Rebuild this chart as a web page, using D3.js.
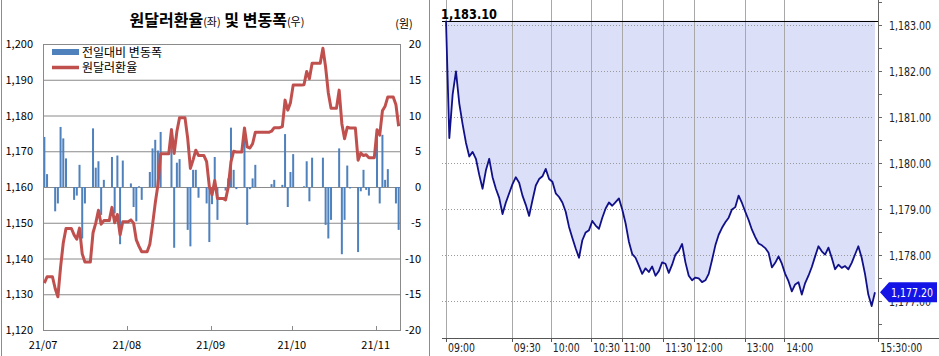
<!DOCTYPE html>
<html><head><meta charset="utf-8">
<script src="https://cdn.jsdelivr.net/npm/d3@7"></script>
<style>body{margin:0;background:#fff} svg{display:block}</style>
</head><body>
<svg id="c" width="939" height="356"></svg>
<script>
// ---------------- LEFT CHART DATA ----------------
const dailyDates = [
 "2021-07-01","2021-07-02","2021-07-05","2021-07-06","2021-07-07","2021-07-08","2021-07-09",
 "2021-07-12","2021-07-13","2021-07-14","2021-07-15","2021-07-16","2021-07-19","2021-07-20",
 "2021-07-21","2021-07-22","2021-07-23","2021-07-26","2021-07-27","2021-07-28","2021-07-29","2021-07-30",
 "2021-08-02","2021-08-03","2021-08-04","2021-08-05","2021-08-06","2021-08-09","2021-08-10",
 "2021-08-11","2021-08-12","2021-08-13","2021-08-17","2021-08-18","2021-08-19","2021-08-20",
 "2021-08-23","2021-08-24","2021-08-25","2021-08-26","2021-08-27","2021-08-30","2021-08-31",
 "2021-09-01","2021-09-02","2021-09-03","2021-09-06","2021-09-07","2021-09-08","2021-09-09","2021-09-10",
 "2021-09-13","2021-09-14","2021-09-15","2021-09-16","2021-09-17","2021-09-23","2021-09-24",
 "2021-09-27","2021-09-28","2021-09-29","2021-09-30",
 "2021-10-01","2021-10-05","2021-10-06","2021-10-07","2021-10-08","2021-10-12","2021-10-13",
 "2021-10-14","2021-10-15","2021-10-18","2021-10-19","2021-10-20","2021-10-21","2021-10-22",
 "2021-10-25","2021-10-26","2021-10-27","2021-10-28","2021-10-29",
 "2021-11-01","2021-11-02","2021-11-03","2021-11-04","2021-11-05","2021-11-08","2021-11-09"];
const usdKrw = [
 1133.1,1134.9,1131.6,1129.3,1137.6,1144.4,1148.4,1146.6,1145.4,1148.5,1141.3,1139.0,1147.2,1149.9,
 1153.5,1149.6,1150.6,1154.3,1150.0,1152.3,1146.6,1150.3,
 1150.8,1149.9,1145.2,1143.4,1141.9,1144.0,1149.4,1155.5,1160.6,1169.3,1176.0,1169.4,1175.5,1179.4,
 1173.6,1165.2,1167.6,1170.3,1168.8,1167.1,1160.1,
 1157.8,1161.8,1156.8,1156.4,1160.0,1167.0,1170.0,1169.8,1176.5,1171.2,1170.9,1172.1,1175.3,1175.6,
 1176.6,1176.9,1184.3,1181.5,1183.6,
 1188.5,1188.6,1192.3,1190.3,1194.6,1198.8,1193.5,1186.3,1182.0,1187.1,1177.7,1173.5,1176.7,1176.5,
 1167.5,1169.5,1168.8,1169.0,1168.2,
 1176.0,1174.5,1181.3,1182.6,1185.2,1183.0,1177.0];
const dailyChange = [
 7.0,1.8,-3.4,-2.3,8.4,6.8,4.0,-1.8,-1.2,3.1,-7.2,-2.3,8.2,2.7,3.6,-3.9,1.0,4.2,-3.7,4.4,-8.0,3.7,
 0.5,-2.8,-4.8,0.1,-1.8,2.1,5.4,6.6,5.1,7.7,8.2,-8.5,3.4,3.9,-6.0,-8.3,2.4,2.4,-1.5,-2.3,-7.7,
 -2.4,4.2,-4.6,-0.5,1.2,8.3,2.4,-0.3,6.6,-5.3,-0.3,1.2,3.1,0.4,1.0,0.3,7.4,-2.8,2.1,
 4.6,0.1,3.6,-2.0,4.1,4.1,-5.3,-7.2,-4.6,5.4,-9.4,-4.6,3.0,-0.2,-9.1,-0.6,2.4,-0.4,-1.2,
 7.3,-2.3,7.3,1.0,2.5,-2.3,-6.0];
const rateTicks = [1120,1130,1140,1150,1160,1170,1180,1190,1200];
const changeTicks = [-20,-15,-10,-5,0,5,10,15,20];
const monthTicks = ["2021-07-01","2021-08-01","2021-09-01","2021-10-01","2021-11-01"];
const monthLabels = ["21/07","21/08","21/09","21/10","21/11"];

// ---------------- RIGHT CHART DATA ----------------
const intradayPrice = [
 1183.10,1180.55,1181.50,1182.00,1181.30,1180.85,1180.45,1180.15,1180.25,1180.10,
 1179.75,1179.45,1179.85,1180.10,1179.70,1179.45,1179.25,1178.90,1179.15,1179.35,
 1179.55,1179.70,1179.58,1179.30,1179.10,1178.86,1179.20,1179.52,1179.66,1179.72,
 1179.88,1179.66,1179.60,1179.35,1179.27,1179.15,1178.95,1178.62,1178.38,1178.15,
 1177.95,1178.33,1178.50,1178.55,1178.75,1178.65,1178.58,1178.82,1179.02,1179.15,
 1179.08,1179.16,1179.24,1179.00,1178.70,1178.30,1178.03,1177.95,1177.78,1177.60,
 1177.72,1177.64,1177.76,1177.56,1177.66,1177.85,1177.82,1177.62,1177.80,1178.02,
 1178.10,1178.25,1177.85,1177.56,1177.46,1177.52,1177.50,1177.42,1177.46,1177.60,
 1177.90,1178.22,1178.45,1178.60,1178.72,1178.82,1179.00,1179.05,1179.30,1179.14,
 1178.95,1178.77,1178.56,1178.40,1178.26,1178.22,1178.16,1178.06,1177.74,1177.84,
 1177.98,1177.82,1177.60,1177.44,1177.22,1177.37,1177.42,1177.15,1177.40,1177.56,
 1177.75,1177.98,1178.20,1178.09,1178.02,1178.17,1177.95,1177.70,1177.80,1177.73,
 1177.77,1177.70,1177.84,1178.02,1178.20,1177.95,1177.60,1177.15,1176.90,1177.20];
const timeLabels = ["09:00","09:30","10:00","10:30","11:00","11:30","12:00","13:00","14:00","15:30:00"];
const timeLabelIndex = [0,19.8,31.5,43.6,52.8,65.3,74.5,89.8,101.7,130];
const priceTicks = [1177,1178,1179,1180,1181,1182,1183];
const dayHigh = 1183.10;
const dayClose = 1177.20;

// ---------------- DRAW ----------------
const svg = d3.select("#c");
const KR = "'Noto Sans CJK KR','Noto Sans',sans-serif";
const NUM = "'Liberation Sans Narrow','DejaVu Sans Condensed','Liberation Sans',Arial,sans-serif";

// ===== Left chart =====
const L = svg.append("g");
L.append("rect").attr("x",1.5).attr("y",-2).attr("width",428).attr("height",360)
  .attr("fill","none").attr("stroke","#8c8c8c").attr("stroke-width",1);

const parse = d3.utcParse("%Y-%m-%d");
const days = dailyDates.map(parse);
const xL = d3.scaleUtc().domain([parse("2021-07-01"), parse("2021-11-10")]).range([43,400]);
const yL = d3.scaleLinear().domain([1120,1200]).range([330,44]);
const yR = d3.scaleLinear().domain([-20,20]).range([330,44]);
const mid = d => xL(d3.utcHour.offset(d,12));

L.append("g").selectAll("line").data(rateTicks.slice(1)).join("line")
  .attr("x1",43).attr("x2",400).attr("y1",d=>yL(d)+0.5).attr("y2",d=>yL(d)+0.5)
  .attr("stroke","#8a8a8a").attr("stroke-width",1);

L.append("g").selectAll("rect").data(dailyChange).join("rect")
  .attr("x",(d,i)=>mid(days[i])-1)
  .attr("width",2)
  .attr("y",d=>yR(Math.max(0,d)))
  .attr("height",d=>Math.abs(yR(d)-yR(0)))
  .attr("fill","#4f81bd");

L.append("line").attr("x1",43.5).attr("x2",43.5).attr("y1",44).attr("y2",330).attr("stroke","#8a8a8a");
L.append("line").attr("x1",400.5).attr("x2",400.5).attr("y1",44).attr("y2",330).attr("stroke","#8a8a8a");
L.append("line").attr("x1",43).attr("x2",401).attr("y1",330.5).attr("y2",330.5).attr("stroke","#8a8a8a");

const pts = [];
days.forEach((d,i)=>{
  if(i>0){
    const prev = d3.utcDay.offset(d,-1);
    if(+prev !== +days[i-1]) pts.push([mid(prev), yL(usdKrw[i-1])]);
  }
  pts.push([mid(d), yL(usdKrw[i])]);
});
L.append("path").attr("d",d3.line()(pts)).attr("fill","none")
  .attr("stroke","#c0504d").attr("stroke-width",3).attr("stroke-linejoin","round");

const mt = monthTicks.map(parse);
L.append("g").selectAll("line").data(mt).join("line")
  .attr("x1",d=>Math.round(xL(d))+0.5).attr("x2",d=>Math.round(xL(d))+0.5)
  .attr("y1",326).attr("y2",330).attr("stroke","#8a8a8a");
L.append("g").selectAll("text").data(mt).join("text")
  .attr("x",d=>xL(d)).attr("y",349).attr("text-anchor","middle")
  .attr("font-family",KR).attr("font-size",11).attr("fill","#000")
  .text((d,i)=>monthLabels[i]);

L.append("g").selectAll("text").data(rateTicks).join("text")
  .attr("x",33).attr("y",d=>yL(d)+4).attr("text-anchor","end")
  .attr("font-family",KR).attr("font-size",11).attr("fill","#000")
  .text(d=>d3.format(",")(d));
L.append("g").selectAll("text").data(changeTicks).join("text")
  .attr("x",421).attr("y",d=>yR(d)+4).attr("text-anchor","end")
  .attr("font-family",KR).attr("font-size",11).attr("fill","#000")
  .text(d=>d);

const t = L.append("text").attr("x",217).attr("y",26).attr("text-anchor","middle")
  .attr("font-family",KR).attr("fill","#000");
t.append("tspan").attr("font-size",16).attr("font-weight","bold").text("원달러환율");
t.append("tspan").attr("font-size",11).text("(좌)");
t.append("tspan").attr("font-size",16).attr("font-weight","bold").text(" 및 변동폭");
t.append("tspan").attr("font-size",11).text("(우)");
L.append("text").attr("x",404).attr("y",28).attr("text-anchor","middle")
  .attr("font-family",KR).attr("font-size",11).attr("fill","#000").text("(원)");

L.append("rect").attr("x",52).attr("y",49).attr("width",27).attr("height",6).attr("fill","#4f81bd");
L.append("text").attr("x",82).attr("y",57).attr("font-family",KR).attr("font-size",12).text("전일대비 변동폭");
L.append("line").attr("x1",52).attr("x2",79).attr("y1",67.5).attr("y2",67.5).attr("stroke","#c0504d").attr("stroke-width",3.5);
L.append("text").attr("x",82).attr("y",72).attr("font-family",KR).attr("font-size",12).text("원달러환율");

// ===== Right chart =====
const R = svg.append("g");
const xT = d3.scaleLinear().domain([0,130]).range([446,878.3]);
const yP = d3.scaleLinear().domain([1176.2,1183.55]).range([338.3,0]);

R.append("path").datum(intradayPrice)
  .attr("d",d3.area().x((d,i)=>xT(i)).y0(yP(dayHigh)).y1(d=>yP(d)))
  .attr("fill","#dcdff8");

R.append("g").selectAll("line").data(timeLabelIndex).join("line")
  .attr("x1",d=>Math.round(xT(d))+0.5).attr("x2",d=>Math.round(xT(d))+0.5)
  .attr("y1",0).attr("y2",342).attr("stroke","#a8a8a8").attr("stroke-width",1);
R.append("g").selectAll("line").data(priceTicks).join("line")
  .attr("x1",442).attr("x2",873).attr("y1",d=>Math.round(yP(d))+0.5).attr("y2",d=>Math.round(yP(d))+0.5)
  .attr("stroke","#9a9a9a").attr("stroke-dasharray","1,2");

R.append("line").attr("x1",442).attr("x2",878).attr("y1",Math.round(yP(dayHigh))+0.5).attr("y2",Math.round(yP(dayHigh))+0.5)
  .attr("stroke","#000").attr("stroke-width",1);
R.append("text").attr("x",441).attr("y",19).attr("font-family",NUM).attr("font-weight","bold")
  .attr("font-size",14).attr("fill","#000").attr("textLength",56).attr("lengthAdjust","spacingAndGlyphs")
  .text(d3.format(",.2f")(dayHigh));

R.append("path").datum(intradayPrice)
  .attr("d",d3.line().x((d,i)=>xT(i)).y(d=>yP(d)))
  .attr("fill","none").attr("stroke","#10108a").attr("stroke-width",1.8).attr("stroke-linejoin","round");

R.append("line").attr("x1",442).attr("x2",939).attr("y1",338.5).attr("y2",338.5).attr("stroke","#555");
R.append("g").selectAll("line").data(timeLabelIndex).join("line")
  .attr("x1",d=>Math.round(xT(d))+0.5).attr("x2",d=>Math.round(xT(d))+0.5)
  .attr("y1",338).attr("y2",342).attr("stroke","#555");
R.append("g").selectAll("text").data(timeLabelIndex).join("text")
  .attr("x",d=>xT(d)+2).attr("y",352)
  .attr("font-family",NUM).attr("font-size",12).attr("fill","#222")
  .attr("textLength",(d,i)=>timeLabels[i].length>5?42:27).attr("lengthAdjust","spacingAndGlyphs")
  .text((d,i)=>timeLabels[i]);

R.append("line").attr("x1",878.5).attr("x2",878.5).attr("y1",0).attr("y2",338).attr("stroke","#666");
const minor = d3.range(1176.5,1183.6,0.5);
R.append("g").selectAll("line").data(minor).join("line")
  .attr("x1",878).attr("x2",882).attr("y1",d=>Math.round(yP(d))+0.5).attr("y2",d=>Math.round(yP(d))+0.5)
  .attr("stroke","#666");
R.append("g").selectAll("text").data(priceTicks).join("text")
  .attr("x",889).attr("y",d=>yP(d)+5)
  .attr("font-family",NUM).attr("font-size",12).attr("fill","#222")
  .attr("textLength",42).attr("lengthAdjust","spacingAndGlyphs")
  .text(d=>d3.format(",.2f")(d));

const cy = yP(dayClose);
R.append("path").attr("d",`M880,${cy} L889,${cy-10} L937,${cy-10} L937,${cy+10} L889,${cy+10} Z`)
  .attr("fill","#1414e6");
R.append("text").attr("x",891).attr("y",cy+5).attr("font-family",NUM).attr("font-size",12)
  .attr("fill","#fff").attr("textLength",42).attr("lengthAdjust","spacingAndGlyphs")
  .text(d3.format(",.2f")(dayClose));
</script>
</body></html>
